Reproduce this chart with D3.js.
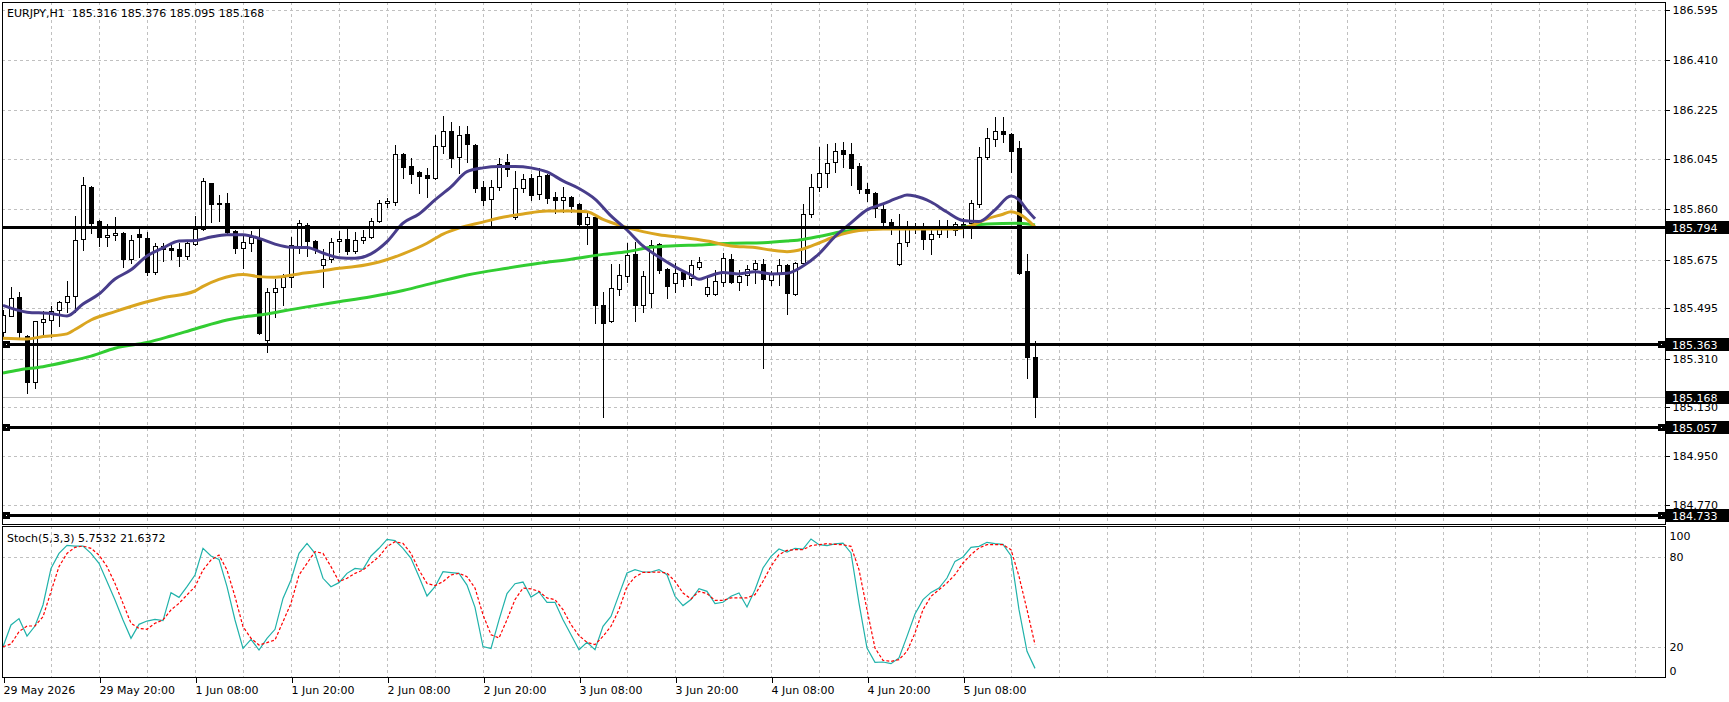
<!DOCTYPE html>
<html>
<head>
<meta charset="utf-8">
<script src="https://cdn.jsdelivr.net/npm/d3@7/dist/d3.min.js"></script>
<style>
body { margin:0; background:#fff; overflow:hidden; }
text { font-family:"DejaVu Sans", sans-serif; font-size:11px; fill:#000; white-space:pre; }
</style>
</head>
<body>
<div id="chart"></div>
<script>
var symbolTitle = 'EURJPY,H1  185.316 185.376 185.095 185.168';
var stochTitle = 'Stoch(5,3,3) 5.7532 21.6372';

// hourly candles, 29 May 08:00 .. 5 Jun 17:00
var openP = [185.408,185.467,185.537,185.393,185.224,185.445,185.452,185.489,185.519,185.541,
  185.751,185.943,185.817,185.758,185.766,185.773,185.677,185.769,185.755,185.629,
  185.725,185.718,185.714,185.688,185.732,185.788,185.957,185.884,185.884,185.780,
  185.718,185.736,185.755,185.378,185.555,185.574,185.611,185.721,185.802,185.743,
  185.655,185.677,185.743,185.751,185.707,185.747,185.758,185.817,185.884,185.887,
  186.064,186.020,185.998,185.987,185.976,186.094,186.149,186.053,186.138,186.097,
  185.943,185.898,185.943,186.035,185.832,185.939,185.976,185.917,185.987,185.906,
  185.895,185.906,185.880,185.806,185.832,185.508,185.448,185.567,185.614,185.696,
  185.508,185.552,185.732,185.640,185.589,185.629,185.607,185.648,185.548,185.548,
  185.592,185.677,185.592,185.618,185.640,185.659,185.600,185.622,185.655,185.548,
  185.662,185.843,185.943,185.994,186.035,186.079,186.064,186.020,185.935,185.920,
  185.861,185.813,185.659,185.740,185.795,185.791,185.751,185.769,185.791,185.784,
  185.806,185.810,185.880,186.053,186.120,186.149,186.138,186.086,185.633,185.316];
var highP = [185.489,185.574,185.555,185.395,185.450,185.485,185.504,185.522,185.596,185.836,
  185.979,185.946,185.821,185.806,185.832,185.775,185.766,185.788,185.777,185.736,
  185.736,185.736,185.736,185.747,185.836,185.976,185.959,185.913,185.920,185.784,
  185.766,185.780,185.795,185.570,185.603,185.622,185.758,185.821,185.810,185.747,
  185.714,185.755,185.780,185.788,185.777,185.784,185.828,185.895,185.902,186.097,
  186.068,186.049,186.002,186.013,186.134,186.204,186.182,186.167,186.167,186.101,
  185.965,185.968,186.049,186.064,186.002,185.990,185.990,186.013,185.990,185.924,
  185.943,185.909,185.884,185.847,185.839,185.555,185.659,185.659,185.736,185.740,
  185.633,185.747,185.736,185.644,185.662,185.637,185.673,185.684,185.607,185.637,
  185.699,185.696,185.637,185.655,185.673,185.677,185.633,185.677,185.659,185.666,
  185.880,185.990,186.090,186.101,186.105,186.108,186.105,186.031,185.957,185.924,
  185.880,185.825,185.843,185.817,185.810,185.810,185.788,185.821,185.821,185.813,
  185.828,185.895,186.090,186.160,186.201,186.201,186.142,186.112,185.696,185.376];
var lowP = [185.393,185.465,185.390,185.183,185.201,185.393,185.390,185.430,185.482,185.482,
  185.710,185.773,185.725,185.725,185.747,185.648,185.662,185.684,185.618,185.622,
  185.670,185.677,185.651,185.677,185.729,185.784,185.813,185.817,185.766,185.699,
  185.644,185.707,185.401,185.334,185.463,185.508,185.574,185.699,185.688,185.699,
  185.574,185.666,185.703,185.696,185.699,185.736,185.755,185.813,185.869,185.876,
  185.976,185.957,185.920,185.906,185.972,186.068,186.016,185.994,186.035,185.924,
  185.876,185.795,185.931,185.983,185.825,185.924,185.895,185.898,185.884,185.847,
  185.850,185.850,185.799,185.732,185.441,185.095,185.445,185.544,185.592,185.448,
  185.482,185.500,185.625,185.533,185.555,185.578,185.581,185.640,185.541,185.544,
  185.578,185.589,185.563,185.581,185.589,185.275,185.581,185.581,185.474,185.544,
  185.659,185.832,185.928,185.943,185.998,186.016,185.950,185.920,185.891,185.832,
  185.788,185.769,185.655,185.725,185.773,185.714,185.696,185.758,185.758,185.766,
  185.758,185.755,185.869,186.046,186.094,186.108,185.998,185.622,185.238,185.095];
var closeP = [185.471,185.533,185.408,185.224,185.448,185.456,185.485,185.519,185.541,185.747,
  185.950,185.810,185.758,185.766,185.773,185.677,185.747,185.758,185.629,185.725,
  185.714,185.710,185.688,185.736,185.788,185.965,185.880,185.880,185.777,185.718,
  185.740,185.758,185.404,185.555,185.570,185.611,185.729,185.810,185.743,185.714,
  185.677,185.740,185.751,185.707,185.747,185.758,185.817,185.884,185.891,186.064,
  186.016,185.990,185.983,185.976,186.094,186.149,186.049,186.134,186.101,185.939,
  185.895,185.943,186.027,186.009,185.939,185.972,185.913,185.983,185.902,185.895,
  185.906,185.872,185.806,185.832,185.508,185.441,185.570,185.618,185.692,185.508,
  185.614,185.729,185.637,185.578,185.625,185.603,185.655,185.666,185.574,185.596,
  185.681,185.592,185.614,185.640,185.662,185.603,185.622,185.655,185.552,185.662,
  185.843,185.943,185.994,186.031,186.075,186.064,186.013,185.935,185.920,185.865,
  185.813,185.795,185.736,185.791,185.788,185.751,185.769,185.788,185.788,185.806,
  185.795,185.884,186.053,186.123,186.149,186.138,186.075,185.625,185.316,185.168];

// moving averages (bar index, price)
var fastBars = [0,3,6,8,10,12,14,16,18,20,22,24,26,28,30,32,34,36,38,40,42,44,46,48,50,52,54,56,58,60,62,64,66,68,70,72,74,76,78,80,82,84,86,87,88,90,92,94,96,98,100,102,104,106,108,110,112,113,114,116,118,120,122,124,126,127,128,129];
var fastVals = [185.506,185.481,185.476,185.467,185.511,185.548,185.603,185.637,185.688,185.718,185.743,185.745,185.758,185.766,185.766,185.753,185.732,185.720,185.719,185.699,185.682,185.680,185.696,185.741,185.809,185.843,185.895,185.943,185.999,186.013,186.018,186.018,186.013,185.998,185.965,185.937,185.898,185.836,185.784,185.725,185.684,185.648,185.618,185.602,185.611,185.627,185.622,185.630,185.622,185.624,185.651,185.696,185.760,185.810,185.858,185.880,185.904,185.913,185.909,185.887,185.850,185.819,185.815,185.858,185.909,185.895,185.858,185.825];
var midBars = [0,3,5,8,9,11,14,17,20,24,25,27,30,32,34,37,40,42,44,47,50,53,55,57,60,62,65,68,71,73,75,77,80,82,85,88,91,94,96,98,100,102,104,107,110,115,119,121,123,125,126,127,129];
var midVals = [185.385,185.382,185.391,185.401,185.417,185.452,185.483,185.511,185.534,185.559,185.576,185.602,185.620,185.612,185.610,185.622,185.634,185.643,185.649,185.666,185.696,185.735,185.769,185.791,185.813,185.828,185.843,185.854,185.854,185.851,185.823,185.802,185.778,185.766,185.756,185.743,185.725,185.719,185.710,185.704,185.714,185.736,185.760,185.782,185.788,185.788,185.788,185.799,185.825,185.842,185.851,185.843,185.795];
var slowBars = [0,2,5,8,11,14,18,21,24,28,30,33,35,39,42,46,50,54,58,63,67,71,75,78,81,84,87,91,95,98,100,102,105,107,111,115,119,123,127,129];
var slowVals = [185.257,185.268,185.280,185.298,185.319,185.348,185.369,185.393,185.419,185.452,185.463,185.474,185.485,185.505,185.519,185.538,185.561,185.590,185.618,185.643,185.661,185.676,185.694,185.704,185.720,185.726,185.729,185.735,185.737,185.743,185.749,185.760,185.778,185.786,185.790,185.790,185.792,185.806,185.809,185.802];

var stochK = [20.2,34.7,38.9,27.3,34,48,72.4,82.4,87.8,87.3,87.3,82.4,75.8,63.6,51.3,38,25.8,35.1,37.3,38.4,
  37.6,56.2,53.1,60.2,68,85.8,80.7,78.4,60.2,38,19.1,25.1,18,25.8,31.8,52.4,64.7,82.4,89.1,82.4,
  65.8,60.2,62.9,69.1,72.4,71.8,80.7,85.8,91.8,90.9,85.8,79.1,66.9,54,60.2,70.2,69.6,69.1,61.3,46.4,
  20.3,19,38.1,55.6,62.2,63.3,53.3,56.7,49.8,49.8,38.2,28.2,18.2,23.1,18.2,33.8,40.4,54.9,69.3,71.6,
  70,70,71.6,68.2,53.8,47.6,51.6,58.9,57.1,48.9,49.8,53.8,56,46.7,58.2,72.7,80.4,85.3,83.3,85.8,
  85.3,92,88.2,87.6,88.7,89.3,82.7,49.3,19.3,9.8,10,8.9,12.7,27.1,42,51.6,56.4,59.3,66,77.1,
  80,86.4,87.1,89.8,88.9,88.4,80.9,44.9,17.1,5.75];
var stochD = [20.2,22,30.2,34,34,40.2,56.9,73.6,82.4,86.4,87.3,85.8,81.3,73.6,62.4,49.1,35.8,32.4,31.8,35.8,
  38,44.7,49.1,54.7,60.2,71.3,78,81.3,71.3,53.6,33.6,25.8,21.3,22.9,24.7,36.9,49.1,68,75.8,83.6,
  82.4,73.6,63.6,65.8,69.1,71.3,75.8,80.2,86.9,90.2,89.1,82.4,71.3,62.4,60.9,63.6,68,69.1,66.9,59.3,
  41.5,28.2,26,38.2,51.6,59.3,58.7,57.1,52.7,51.6,44.9,34.9,27.6,23.1,21.6,27.1,33.8,44.9,60.4,66.7,
  69.8,69.8,70,69.3,63.8,56,52,57.1,55.6,51.1,51.1,52.7,52.7,52.7,54.9,63.8,73.8,81.6,84.4,84.9,
  84.9,87.6,88.2,88.9,88.4,88.2,87.1,71.6,44.9,19.3,11.1,10.4,11.6,17.1,29.3,44.9,53.8,58.2,62.7,68.2,
  76,81.6,86,88.2,88.2,88.2,84.9,67.1,44.9,21.6];

var priceTicks = [186.595,186.410,186.225,186.045,185.860,185.675,185.495,185.310,185.130,184.950,184.770];
var levelPrices = [185.794,185.363,185.057,184.733];
var levelAnchored = [false,true,true,true];
var bidPrice = 185.168;
var stochTicks = [0,20,80,100];
var timeBars = [0,12,24,36,48,60,72,84,96,108,120];
var timeLabels = ['29 May 2026','29 May 20:00','1 Jun 08:00','1 Jun 20:00','2 Jun 08:00','2 Jun 20:00',
  '3 Jun 08:00','3 Jun 20:00','4 Jun 08:00','4 Jun 20:00','5 Jun 08:00'];

var color_fast = '#483d8b';
var color_mid = '#daa520';
var color_slow = '#32cd32';
var color_k = '#20b2aa';
var color_d = '#ff0000';
var color_grid = '#c0c0c0';

var width = 1729, height = 702;
var plotLeft = 2, plotRight = 1665;
var mainTop = 2, mainBottom = 524;
var subTop = 526, subBottom = 677;

var x = d3.scaleLinear().domain([0, 200]).range([3, 1603]);
var y = d3.scaleLinear().domain([184.770, 186.595]).range([505, 10]);
var ys = d3.scaleLinear().domain([0, 100]).range([677, 527]);

var svg = d3.select('#chart').append('svg')
    .attr('width', width).attr('height', height)
    .style('display', 'block');

svg.append('rect').attr('width', width).attr('height', height).attr('fill', '#fff');

var defs = svg.append('defs');
defs.append('clipPath').attr('id', 'clipMain').append('rect')
    .attr('x', plotLeft).attr('y', mainTop).attr('width', plotRight - plotLeft).attr('height', mainBottom - mainTop);
defs.append('clipPath').attr('id', 'clipSub').append('rect')
    .attr('x', plotLeft).attr('y', subTop).attr('width', plotRight - plotLeft).attr('height', subBottom - subTop);

var px = function(v) { return Math.round(v) + 0.5; };

// grid
var gridBars = d3.range(6, 205, 6);
var grid = svg.append('g').attr('stroke', color_grid).attr('stroke-dasharray', '3,3')
    .attr('shape-rendering', 'crispEdges');
grid.selectAll('line.vm').data(gridBars).enter().append('line')
    .attr('x1', function(d) { return px(x(d)); }).attr('x2', function(d) { return px(x(d)); })
    .attr('y1', mainTop).attr('y2', mainBottom);
grid.selectAll('line.vs').data(gridBars).enter().append('line')
    .attr('x1', function(d) { return px(x(d)); }).attr('x2', function(d) { return px(x(d)); })
    .attr('y1', subTop).attr('y2', subBottom);
grid.selectAll('line.hm').data(priceTicks).enter().append('line')
    .attr('x1', plotLeft).attr('x2', plotRight)
    .attr('y1', function(d) { return px(y(d)); }).attr('y2', function(d) { return px(y(d)); });
grid.selectAll('line.hs').data([20, 80]).enter().append('line')
    .attr('x1', plotLeft).attr('x2', plotRight)
    .attr('y1', function(d) { return px(ys(d)); }).attr('y2', function(d) { return px(ys(d)); });

// bid line
svg.append('line').attr('x1', plotLeft).attr('x2', plotRight)
    .attr('y1', px(y(bidPrice))).attr('y2', px(y(bidPrice)))
    .attr('stroke', color_grid).attr('shape-rendering', 'crispEdges');

// candles
var main = svg.append('g').attr('clip-path', 'url(#clipMain)');
var candles = main.append('g').attr('shape-rendering', 'crispEdges');
var bars = d3.range(openP.length);
candles.selectAll('line.wick').data(bars).enter().append('line')
    .attr('x1', function(i) { return Math.round(x(i)) + 0.5; })
    .attr('x2', function(i) { return Math.round(x(i)) + 0.5; })
    .attr('y1', function(i) { return Math.round(y(highP[i])); })
    .attr('y2', function(i) { return Math.round(y(lowP[i])) + 1; })
    .attr('stroke', '#000');
candles.selectAll('rect.body').data(bars).enter().append('rect')
    .attr('x', function(i) { return Math.round(x(i)) - 1.5; })
    .attr('width', 4)
    .attr('y', function(i) { return Math.round(y(Math.max(openP[i], closeP[i]))) + 0.5; })
    .attr('height', function(i) {
        return Math.max(1, Math.round(y(Math.min(openP[i], closeP[i]))) - Math.round(y(Math.max(openP[i], closeP[i]))));
    })
    .attr('fill', function(i) { return closeP[i] >= openP[i] ? '#fff' : '#000'; })
    .attr('stroke', '#000');

// moving averages
var maLine = d3.line()
    .x(function(d) { return x(d[0]); })
    .y(function(d) { return y(d[1]); })
    .curve(d3.curveMonotoneX);
[[slowBars, slowVals, color_slow], [midBars, midVals, color_mid], [fastBars, fastVals, color_fast]].forEach(function(m) {
    main.append('path')
        .datum(d3.zip(m[0], m[1]))
        .attr('d', maLine)
        .attr('fill', 'none')
        .attr('stroke', m[2])
        .attr('stroke-width', 3);
});

// horizontal levels
var levels = svg.append('g').attr('shape-rendering', 'crispEdges');
levelPrices.forEach(function(p, k) {
    var ly = Math.round(y(p));
    levels.append('rect').attr('x', plotLeft).attr('y', ly - 1).attr('width', plotRight - plotLeft).attr('height', 3).attr('fill', '#000');
    if (levelAnchored[k]) {
        [plotLeft + 1, plotRight - 7].forEach(function(ax) {
            levels.append('rect').attr('x', ax).attr('y', ly - 3).attr('width', 7).attr('height', 7).attr('fill', '#000');
            levels.append('rect').attr('x', ax + 3).attr('y', ly).attr('width', 1).attr('height', 1).attr('fill', '#fff');
        });
    }
});

// stochastic
var sub = svg.append('g').attr('clip-path', 'url(#clipSub)');
var stLine = d3.line()
    .x(function(d, i) { return x(i); })
    .y(function(d) { return ys(d); });
sub.append('path').datum(stochK).attr('d', stLine)
    .attr('fill', 'none').attr('stroke', color_k).attr('stroke-width', 1.2);
sub.append('path').datum(stochD).attr('d', stLine)
    .attr('fill', 'none').attr('stroke', color_d).attr('stroke-width', 1.2).attr('stroke-dasharray', '3,2');

// frames
var frame = svg.append('g').attr('fill', 'none').attr('stroke', '#000').attr('shape-rendering', 'crispEdges');
frame.append('rect').attr('x', plotLeft + 0.5).attr('y', mainTop + 0.5)
    .attr('width', plotRight - plotLeft).attr('height', mainBottom - mainTop);
frame.append('rect').attr('x', plotLeft + 0.5).attr('y', subTop + 0.5)
    .attr('width', plotRight - plotLeft).attr('height', subBottom - subTop);

// price axis
var priceAxis = svg.append('g').attr('transform', 'translate(' + (plotRight + 0.5) + ',0)')
    .call(d3.axisRight(y).tickValues(priceTicks).tickFormat(d3.format('.3f')).tickSize(4).tickPadding(3));
priceAxis.select('.domain').remove();
priceAxis.selectAll('line').attr('stroke', '#000').attr('shape-rendering', 'crispEdges');
priceAxis.selectAll('text').style('font-family', '"DejaVu Sans", sans-serif').style('font-size', '11px').attr('fill', '#000');

// level + bid price boxes
var boxPrices = levelPrices.concat([bidPrice]);
var boxes = svg.append('g');
boxes.selectAll('rect').data(boxPrices).enter().append('rect')
    .attr('x', plotRight + 1).attr('width', width - plotRight - 1)
    .attr('y', function(d) { return Math.round(y(d)) - 6; })
    .attr('height', 13).attr('fill', '#000');
boxes.selectAll('text').data(boxPrices).enter().append('text')
    .attr('x', plotRight + 7)
    .attr('y', function(d) { return Math.round(y(d)) + 4.5; })
    .style('fill', '#fff')
    .text(function(d) { return d3.format('.3f')(d); });

// stochastic axis
var stochAxis = svg.append('g').attr('transform', 'translate(' + (plotRight + 0.5) + ',0)')
    .call(d3.axisRight(ys).tickValues(stochTicks).tickSize(0).tickPadding(4));
stochAxis.select('.domain').remove();
stochAxis.selectAll('text').style('font-family', '"DejaVu Sans", sans-serif').style('font-size', '11px').attr('fill', '#000')
    .attr('dy', function(d) { return d === 100 ? '1.1em' : (d === 0 ? '-0.2em' : '0.32em'); });

// time axis
var timeAxis = svg.append('g').attr('transform', 'translate(0,' + (subBottom + 0.5) + ')')
    .call(d3.axisBottom(x).tickValues(timeBars).tickSize(5).tickPadding(4)
        .tickFormat(function(d, i) { return timeLabels[i]; }));
timeAxis.select('.domain').remove();
timeAxis.selectAll('line').attr('stroke', '#000').attr('transform', 'translate(0.5,0)').attr('shape-rendering', 'crispEdges');
timeAxis.selectAll('text').style('font-family', '"DejaVu Sans", sans-serif').style('font-size', '11px').attr('fill', '#000')
    .attr('text-anchor', 'start').attr('dx', '0');

// titles
svg.append('text').attr('x', 7).attr('y', 17).attr('xml:space', 'preserve').text(symbolTitle);
svg.append('text').attr('x', 7).attr('y', 542).text(stochTitle);
</script>
</body>
</html>
